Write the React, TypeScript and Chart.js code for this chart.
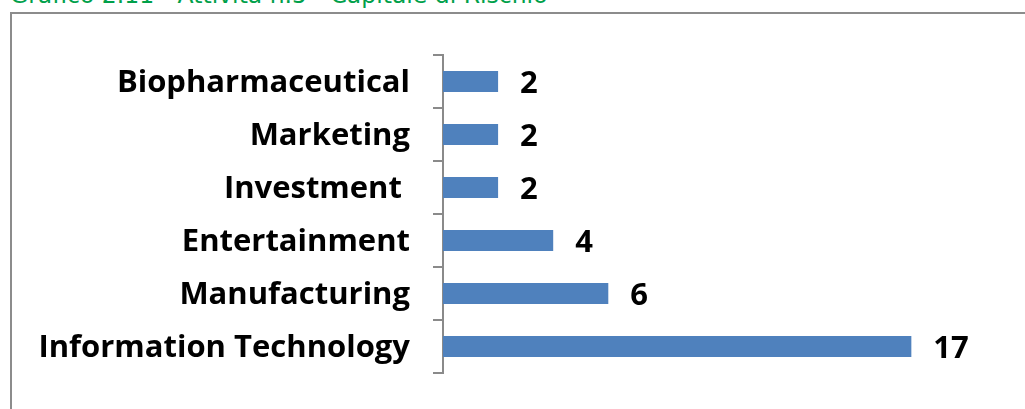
import React, { useEffect, useRef } from "react";
import { Chart, registerables } from "chart.js";

Chart.register(...registerables);

const categories = [
  "Biopharmaceutical",
  "Marketing",
  "Investment ",
  "Entertainment",
  "Manufacturing",
  "Information Technology",
];
const values = [2, 2, 2, 4, 6, 17];
const titleText = "Grafico 2.11 - Attività n.5 - Capitale di Rischio";

const FONT = "'Open Sans'";

const valueLabels = {
  id: "valueLabels",
  afterDatasetsDraw(chart: any) {
    const ctx = chart.ctx;
    const meta = chart.getDatasetMeta(0);
    ctx.save();
    ctx.fillStyle = "#000";
    ctx.font = `bold 31px ${FONT}`;
    ctx.textAlign = "left";
    ctx.textBaseline = "middle";
    meta.data.forEach((bar: any, i: number) => {
      ctx.fillText(String(values[i]), bar.x + 22, bar.y + 3);
    });
    ctx.restore();
  },
};

export default function App() {
  const ref = useRef<HTMLCanvasElement | null>(null);

  useEffect(() => {
    if (!ref.current) return;
    const chart = new Chart(ref.current, {
      type: "bar",
      data: {
        labels: categories,
        datasets: [
          {
            data: values,
            backgroundColor: "#4f81bd",
            borderWidth: 0,
            categoryPercentage: 1,
            barPercentage: 0.4,
          },
        ],
      },
      options: {
        indexAxis: "y",
        animation: false,
        responsive: false,
        maintainAspectRatio: false,
        layout: { padding: { top: 55, bottom: 36, right: 31, left: 0 } },
        plugins: {
          legend: { display: false },
          title: { display: false },
          tooltip: { enabled: false },
        },
        scales: {
          x: { display: false, min: 0, max: 20 },
          y: {
            grid: {
              display: true,
              drawOnChartArea: false,
              drawTicks: true,
              tickLength: 10,
              color: "#8a8a8a",
              lineWidth: 2,
              offset: true,
            },
            border: { display: true, color: "#8a8a8a", width: 2 },
            ticks: {
              color: "#000",
              font: { family: FONT, size: 31, weight: "bold" },
              padding: 23,
              labelOffset: 2,
            },
            afterFit: (s: any) => {
              s.width = 443;
              s.paddingTop = 0;
              s.paddingBottom = 0;
            },
          },
        },
      },
      plugins: [valueLabels],
    });
    return () => chart.destroy();
  }, []);

  return (
    <div
      style={{
        position: "absolute",
        left: 0,
        top: 0,
        width: 1025,
        height: 409,
        overflow: "hidden",
        background: "#fff",
      }}
    >
      <div
        style={{
          position: "absolute",
          left: 10,
          top: -18,
          fontFamily: "Verdana, 'DejaVu Sans', sans-serif",
          fontSize: 23.5,
          lineHeight: "26px",
          color: "#00a04a",
          whiteSpace: "nowrap",
        }}
      >
        {titleText}
      </div>
      <div
        style={{
          position: "absolute",
          left: 10,
          top: 12,
          width: 1030,
          height: 420,
          border: "2px solid #8c8c8c",
          boxSizing: "border-box",
        }}
      />
      <canvas
        ref={ref}
        width={1025}
        height={409}
        style={{ position: "absolute", left: 0, top: 0 }}
      />
    </div>
  );
}
